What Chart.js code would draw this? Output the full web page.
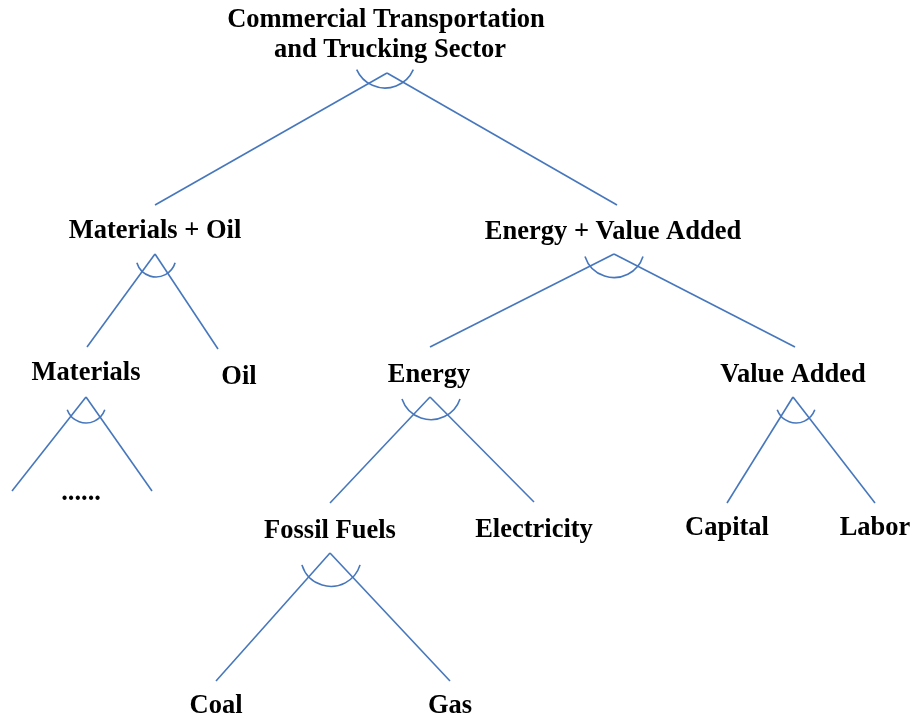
<!DOCTYPE html>
<html>
<head>
<meta charset="utf-8">
<script src="https://cdn.jsdelivr.net/npm/chart.js@4.4.0/dist/chart.umd.min.js"></script>
<style>
  html, body { margin: 0; padding: 0; background: #fff; }
  #wrap { width: 914px; height: 723px; }
</style>
</head>
<body>
<div id="wrap"><canvas id="tree" width="914" height="723"></canvas></div>
<script>
// node labels and where they sit (data units = page pixels)
const labels = ['Commercial Transportation', 'and Trucking Sector', 'Materials + Oil', 'Energy + Value Added',
  'Materials', 'Oil', 'Energy', 'Value Added', '......', 'Fossil Fuels', 'Electricity', 'Capital', 'Labor', 'Coal', 'Gas'];
const labelX = [386, 390, 155, 613, 86, 239, 429, 793, 81, 330, 534, 727, 875, 216, 450];
const labelY = [27, 57, 238, 239, 380, 384, 382, 382, 500, 538, 537, 535, 535, 713, 713];

// branches: parent apex -> child end
const edgeFromX = [387, 387, 155, 155, 614, 614, 86, 86, 430, 430, 793, 793, 330, 330];
const edgeFromY = [73, 73, 254, 254, 254, 254, 397, 397, 397, 397, 397, 397, 553, 553];
const edgeToX = [155, 617, 87, 218, 430, 795, 12, 152, 330, 534, 727, 875, 216, 450];
const edgeToY = [205, 205, 347, 349, 347, 347, 491, 491, 503, 502, 503, 503, 681, 681];

// substitution arcs at each split: centre, radius, half-open angle (deg)
const arcX = [385, 156, 614, 86, 431, 796, 331];
const arcY = [57, 257, 247, 403, 389, 403, 556];
const arcR = [31, 20, 30.5, 20, 30.7, 20, 30.4];
const arcA = [24, 17, 18, 20, 19, 20, 17];

const blue = '#4677bd';

const datasets = edgeFromX.map((x, i) => ({
  data: [{ x: x, y: edgeFromY[i] }, { x: edgeToX[i], y: edgeToY[i] }],
  showLine: true,
  borderColor: blue,
  borderWidth: 1.6,
  pointRadius: 0,
  fill: false,
}));

const treeDecor = {
  id: 'treeDecor',
  afterDatasetsDraw(chart) {
    const ctx = chart.ctx;
    const xs = chart.scales.x, ys = chart.scales.y;
    ctx.save();
    // arcs
    ctx.strokeStyle = blue;
    ctx.lineWidth = 1.6;
    arcX.forEach((ax, i) => {
      const cx = xs.getPixelForValue(ax);
      const cy = ys.getPixelForValue(arcY[i]);
      const a = arcA[i] * Math.PI / 180;
      ctx.beginPath();
      ctx.arc(cx, cy, arcR[i], a, Math.PI - a);
      ctx.stroke();
    });
    // labels
    ctx.fillStyle = '#000';
    ctx.font = 'bold 26.5px "Liberation Serif", "Times New Roman", serif';
    ctx.textAlign = 'center';
    ctx.textBaseline = 'alphabetic';
    labels.forEach((t, i) => {
      ctx.fillText(t, xs.getPixelForValue(labelX[i]), ys.getPixelForValue(labelY[i]));
    });
    ctx.restore();
  }
};

new Chart(document.getElementById('tree'), {
  type: 'scatter',
  data: { datasets: datasets },
  options: {
    responsive: false,
    animation: false,
    layout: { padding: 0 },
    scales: {
      x: { type: 'linear', min: 0, max: 914, display: false },
      y: { type: 'linear', min: 0, max: 723, reverse: true, display: false }
    },
    plugins: {
      legend: { display: false },
      tooltip: { enabled: false }
    }
  },
  plugins: [treeDecor]
});
</script>
</body>
</html>
